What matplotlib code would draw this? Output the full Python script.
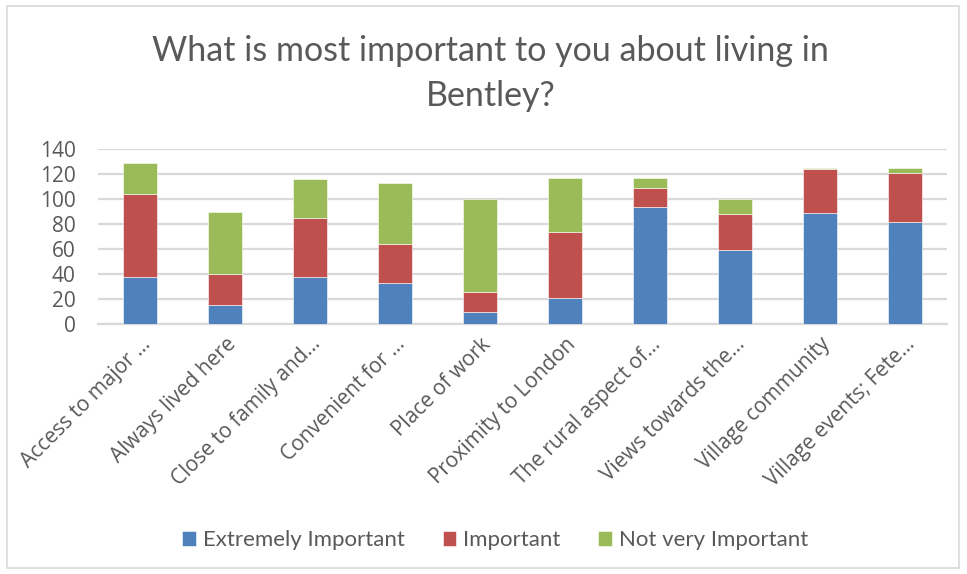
import matplotlib.pyplot as plt
import numpy as np
from matplotlib.patches import Rectangle

categories = [
    "Access to major \u2026",
    "Always lived here",
    "Close to family and\u2026",
    "Convenient for \u2026",
    "Place of work",
    "Proximity to London",
    "The rural aspect of\u2026",
    "Views towards the\u2026",
    "Village community",
    "Village events; Fete\u2026",
]
extremely_important = [38, 15, 38, 33, 10, 21, 94, 59, 89, 82]
important = [66, 25, 47, 31, 16, 53, 15, 29, 35, 39]
not_very_important = [25, 50, 31, 49, 74, 43, 8, 12, 1, 4]

series = [
    ("Extremely Important", extremely_important, "#4f81bd"),
    ("Important", important, "#c0504d"),
    ("Not very Important", not_very_important, "#9bbb59"),
]

TEXT = "#595959"
GRID = "#d9d9d9"

fig = plt.figure(figsize=(9.67, 5.74), dpi=100)
ax = fig.add_axes([0.1013, 0.4355, 0.8780, 0.3049])

x = np.arange(len(categories))
bottom = np.zeros(len(categories))
handles = []
for label, values, color in series:
    values = np.array(values, dtype=float)
    bars = ax.bar(x, values, width=0.4, bottom=bottom, color=color,
                  edgecolor="white", linewidth=0.4, label=label, zorder=3)
    handles.append(bars)
    bottom += values

ax.set_xlim(-0.5, len(categories) - 0.5)
ax.set_ylim(0, 140)
ax.set_yticks(range(0, 141, 20))
ax.yaxis.grid(True, color=GRID, linewidth=1.6, zorder=0)
ax.set_axisbelow(True)
for side in ("top", "right", "left"):
    ax.spines[side].set_visible(False)
ax.spines["bottom"].set_color(GRID)
ax.spines["bottom"].set_linewidth(1.6)
ax.tick_params(axis="both", length=0, colors=TEXT)
ax.tick_params(axis="y", pad=16, labelsize=15)
ax.tick_params(axis="x", pad=7)

ax.set_xticks(x)
ax.set_xticklabels(categories, rotation=45, ha="right", rotation_mode="anchor",
                   fontfamily="Open Sans", color=TEXT, fontsize=15)
for lbl in ax.get_yticklabels():
    lbl.set_fontfamily("Open Sans")

fig.text(0.507, 0.872, "What is most important to you about living in\nBentley?",
         ha="center", va="center", fontsize=24.5, color=TEXT, fontfamily="Lato",
         linespacing=1.5)

leg = fig.legend(handles=handles, loc="center", bbox_to_anchor=(0.512, 0.059),
                 ncol=3, frameon=False, handlelength=0.62,
                 handleheight=0.62, handletextpad=0.3, columnspacing=1.7,
                 prop={"family": "Lato", "size": 16})
for t in leg.get_texts():
    t.set_color(TEXT)

fig.patches.append(Rectangle((0.007, 0.01), 0.985, 0.98, transform=fig.transFigure,
                             fill=False, edgecolor=GRID, linewidth=1.2))

fig.savefig("out.png", dpi=100)
